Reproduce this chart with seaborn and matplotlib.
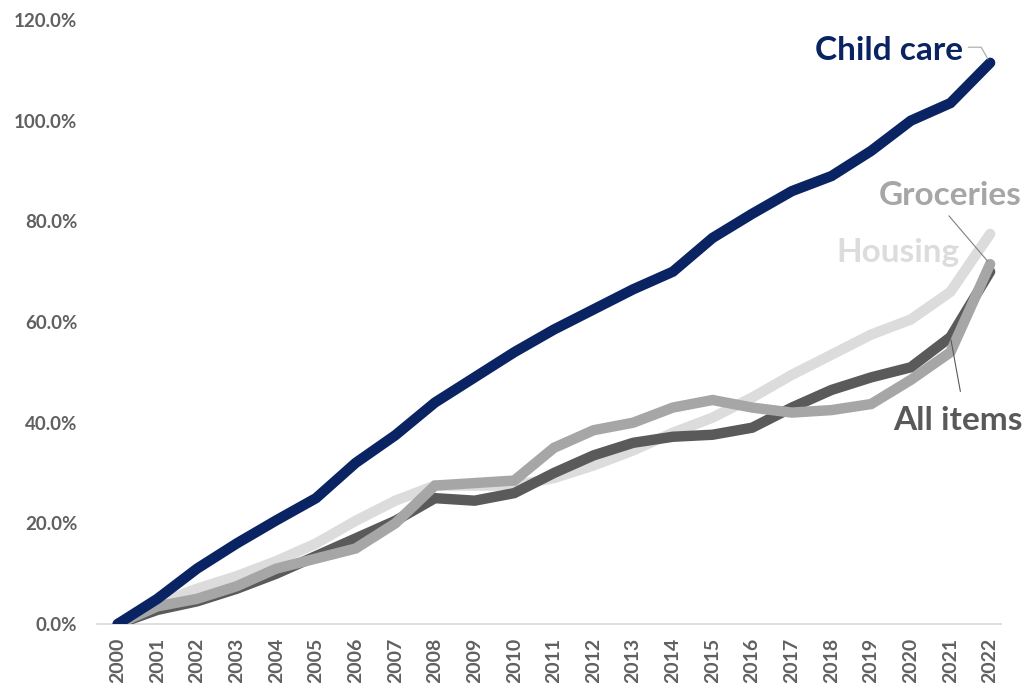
import matplotlib
matplotlib.use("Agg")
import matplotlib.pyplot as plt
import seaborn as sns
import pandas as pd
from matplotlib.ticker import FuncFormatter

years = list(range(2000, 2023))
child_care = [0, 5, 11, 16, 20.6, 25, 32, 37.5, 44, 49, 54, 58.5, 62.5, 66.5, 70, 76.7, 81.5, 86, 89, 94, 100, 103.5, 111.5]
housing = [0, 4, 7, 9.5, 12.5, 16, 20.5, 24.5, 27.5, 27.5, 27.5, 29, 31.5, 34.5, 38, 41, 45, 49.5, 53.5, 57.5, 60.5, 66, 77.5]
groceries = [0, 3.5, 5, 7.5, 11, 13, 15, 20, 27.5, 28, 28.5, 35, 38.5, 40, 43, 44.5, 43, 42, 42.5, 43.7, 48.5, 54, 71.5]
all_items = [0, 2.8, 4.5, 7, 10, 13.5, 17, 20.5, 25, 24.5, 26, 30, 33.5, 36, 37.2, 37.6, 39, 43, 46.5, 49, 51, 57, 70]

series_names = ["Housing", "All items", "Groceries", "Child care"]
series_values = [housing, all_items, groceries, child_care]
colors = {"Child care": "#0a2463", "Housing": "#dcdcdc", "Groceries": "#a6a6a6", "All items": "#5a5a5a"}

rows = []
for name, vals in zip(series_names, series_values):
    for i, (y, v) in enumerate(zip(years, vals)):
        rows.append({"idx": i, "year": y, "series": name, "value": v})
df = pd.DataFrame(rows)

sns.set_style("white")
plt.rcParams["font.family"] = ["Lato", "DejaVu Sans"]

fig = plt.figure(figsize=(10.29, 6.83), dpi=100)
ax = fig.add_axes([0.094, 0.0864, 0.879, 0.8843])

sns.lineplot(data=df, x="idx", y="value", hue="series", hue_order=series_names,
             palette=colors, linewidth=7.5, legend=False, ax=ax, sort=False)
for line in ax.lines:
    line.set_solid_capstyle("round")
    line.set_solid_joinstyle("miter")

ax.set_xlim(-0.53, 22.28)
ax.set_ylim(0, 120)
ax.set_yticks([0, 20, 40, 60, 80, 100, 120])
ax.yaxis.set_major_formatter(FuncFormatter(lambda v, p: f"{v:.1f}%"))
ax.set_xticks(range(len(years)))
ax.set_xticklabels([str(y) for y in years], rotation=90)
ax.tick_params(axis="both", length=0, labelcolor="#606060")
ax.tick_params(axis="y", pad=14, labelsize=13.5)
ax.tick_params(axis="x", pad=10, labelsize=14)
for lab in ax.get_xticklabels() + ax.get_yticklabels():
    lab.set_fontweight("bold")
ax.set_xlabel("")
ax.set_ylabel("")
for s in ["top", "right", "left"]:
    ax.spines[s].set_visible(False)
ax.spines["bottom"].set_color("#d9d9d9")
ax.spines["bottom"].set_linewidth(1.2)
ax.spines["bottom"].set_zorder(0)

last = len(years) - 1
lab_fs = 24
ax.text(21.32, 112.1, "Child care", ha="right", va="baseline", fontsize=lab_fs,
        fontweight="bold", color="#0a2463")
ax.annotate("", xy=(last, child_care[-1]), xytext=(21.45, 114.6),
            arrowprops=dict(arrowstyle="-", color="#a6a6a6", lw=0.8,
                            connectionstyle="angle,angleA=0,angleB=120,rad=0",
                            shrinkA=0, shrinkB=3), annotation_clip=False)

ax.text(22.8, 83.3, "Groceries", ha="right", va="baseline", fontsize=lab_fs,
        fontweight="bold", color="#a6a6a6")
ax.annotate("", xy=(last, groceries[-1]), xytext=(20.96, 81.1),
            arrowprops=dict(arrowstyle="-", color="#7f7f7f", lw=0.8,
                            shrinkA=0, shrinkB=3), annotation_clip=False)

ax.text(21.24, 72.0, "Housing", ha="right", va="baseline", fontsize=lab_fs,
        fontweight="bold", color="#dcdcdc")

ax.text(19.55, 38.6, "All items", ha="left", va="baseline", fontsize=lab_fs,
        fontweight="bold", color="#595959")
ax.annotate("", xy=(21, all_items[-2]), xytext=(21.25, 46.2),
            arrowprops=dict(arrowstyle="-", color="#595959", lw=0.8,
                            shrinkA=0, shrinkB=2), annotation_clip=False)

fig.savefig("out.png", dpi=100, facecolor="white")
